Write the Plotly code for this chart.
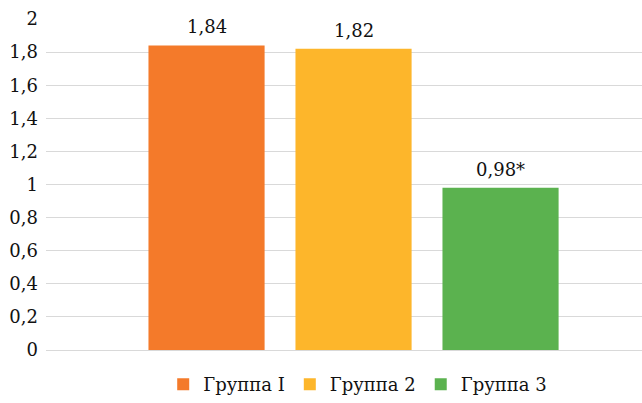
import plotly.graph_objects as go

groups = ["Группа I", "Группа 2", "Группа 3"]
values = [1.84, 1.82, 0.98]
labels = ["1,84", "1,82", "0,98*"]
colors = ["#F47A2A", "#FDB62B", "#5BB24F"]
tick_vals = [0, 0.2, 0.4, 0.6, 0.8, 1, 1.2, 1.4, 1.6, 1.8, 2]
tick_text = ["0", "0,2", "0,4", "0,6", "0,8", "1", "1,2", "1,4", "1,6", "1,8", "2"]

FONT = "DejaVu Serif"
SIZE = 18

fig = go.Figure()
for g, v, c in zip(groups, values, colors):
    fig.add_trace(go.Bar(x=[""], y=[v], name=g, marker=dict(color=c, line=dict(width=0))))

offsets = [-1, 0, 1]
slot = (1 - 0.283) / 3
for o, v, t in zip(offsets, values, labels):
    fig.add_annotation(x=o * slot, y=v, xref="x", yref="y", text=t, showarrow=False,
                       yanchor="bottom", yshift=6, font=dict(family=FONT, size=SIZE, color="#111111"))

fig.update_layout(
    width=642, height=403,
    margin=dict(l=46, r=0, t=19, b=52),
    paper_bgcolor="white", plot_bgcolor="white",
    barmode="group", bargap=0.283, bargroupgap=0.21,
    font=dict(family=FONT, size=SIZE, color="#111111"),
    showlegend=True,
    legend=dict(orientation="h", x=0.523, xanchor="center", y=-0.105, yanchor="middle",
                font=dict(family=FONT, size=SIZE, color="#111111"), itemwidth=30,
                traceorder="normal"),
    xaxis=dict(range=[-0.5, 0.469], showticklabels=False, showgrid=False, zeroline=False,
               showline=False, fixedrange=True),
    yaxis=dict(range=[0, 2], tickvals=tick_vals, ticktext=tick_text, showgrid=True,
               gridcolor="#D9D9D9", gridwidth=1, zeroline=True, zerolinecolor="#D9D9D9",
               zerolinewidth=1, showline=False, ticks="", ticklabelstandoff=7,
               tickfont=dict(family=FONT, size=SIZE, color="#111111")),
)

fig.write_html("out.html")
